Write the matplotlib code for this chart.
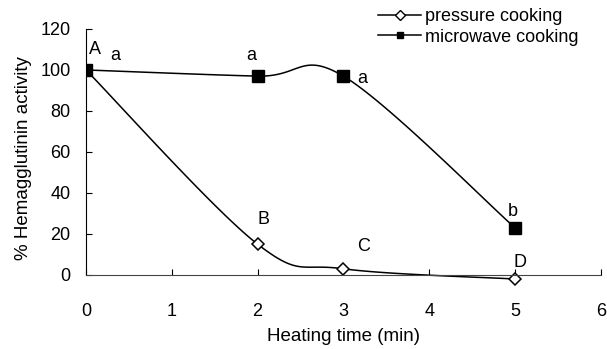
import numpy as np
import matplotlib
matplotlib.use("Agg")
import matplotlib.pyplot as plt

plt.rcParams['font.family'] = ['Liberation Sans', 'DejaVu Sans']

time = [0, 2, 3, 5]
pressure = [100, 15, 3, -2]
microwave = [100, 97, 97, 23]
pressure_labels = ["A", "B", "C", "D"]
microwave_labels = ["a", "a", "a", "b"]


def smooth(xs, ys, n=40):
    # bezier smoothing like the spreadsheet "smoothed line" option
    p = np.column_stack([xs, ys]).astype(float)
    out = []
    for i in range(len(p) - 1):
        p0 = p[i - 1] if i > 0 else p[i]
        p1, p2 = p[i], p[i + 1]
        p3 = p[i + 2] if i + 2 < len(p) else p[i + 1]
        c1 = p1 + (p2 - p0) / 6
        c2 = p2 - (p3 - p1) / 6
        t = np.linspace(0, 1, n)[:, None]
        seg = ((1 - t) ** 3) * p1 + 3 * ((1 - t) ** 2) * t * c1 + 3 * (1 - t) * t ** 2 * c2 + t ** 3 * p2
        out.append(seg)
    s = np.vstack(out)
    return s[:, 0], s[:, 1]


fig = plt.figure(figsize=(6.07, 3.49), dpi=100)
ax = fig.add_axes([0.1417, 0.177, 0.848, 0.74])

sx, sy = smooth(time, pressure)
ax.plot(sx, sy, color='black', lw=1.1)
ax.plot(time, pressure, ls='none', marker='D', ms=6, mfc='white', mec='black', mew=1.1)
mx, my = smooth(time, microwave)
ax.plot(mx, my, color='black', lw=1.1)
ax.plot(time, microwave, ls='none', marker='s', ms=8, color='black')

# legend handles
ax.plot([], [], color='black', lw=1.1, marker='D', ms=5, mfc='white', mec='black', label='pressure cooking')
ax.plot([], [], color='black', lw=1.1, marker='s', ms=5, label='microwave cooking')
ax.legend(loc='upper left', bbox_to_anchor=(378 / 607, 1 - 8 / 349), bbox_transform=fig.transFigure,
          frameon=False, fontsize=13, handlelength=2.4, handletextpad=0.2, labelspacing=0.2,
          borderpad=0, borderaxespad=0)

p_off = [(0.1, 110), (2.07, 27), (3.24, 14), (5.06, 6)]
m_off = [(0.34, 107), (1.93, 107), (3.22, 96), (4.97, 31)]
for lab, (x, y) in zip(pressure_labels, p_off):
    ax.text(x, y, lab, fontsize=13, ha='center', va='center')
for lab, (x, y) in zip(microwave_labels, m_off):
    ax.text(x, y, lab, fontsize=13, ha='center', va='center')

ax.set_xlim(0, 6)
ax.set_ylim(-6, 120)
ax.set_xticks(range(0, 7))
ax.set_yticks(range(0, 121, 20))
ax.spines['top'].set_visible(False)
ax.spines['right'].set_visible(False)
ax.spines['bottom'].set_position(('data', 0))
ax.spines['bottom'].set_color('#444444')
ax.spines['left'].set_bounds(0, 120)
ax.tick_params(axis='x', direction='in', length=4, pad=20, labelsize=13)
ax.tick_params(axis='y', direction='in', length=4, pad=11, labelsize=13)
ax.set_xlabel("Heating time (min)", fontsize=13.5, labelpad=6)
ax.set_ylabel("% Hemagglutinin activity", fontsize=13.5, labelpad=6)

fig.savefig("out.png", dpi=100)
